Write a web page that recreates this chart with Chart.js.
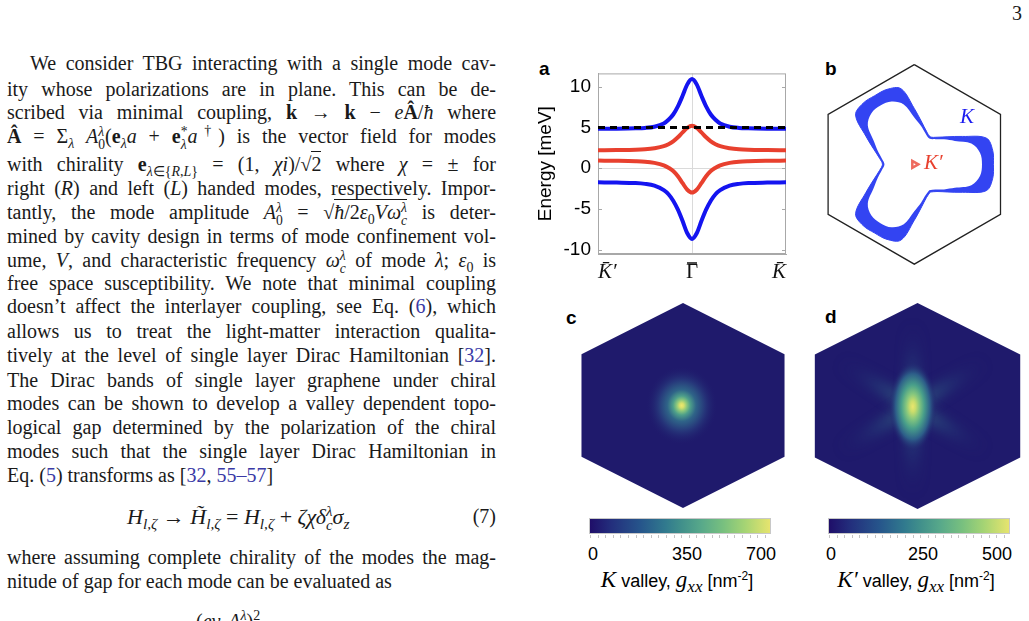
<!DOCTYPE html>
<html>
<head>
<meta charset="utf-8">
<title>TBG in a chiral cavity</title>
<script src="https://cdn.jsdelivr.net/npm/chart.js@4.4.1/dist/chart.umd.min.js"></script>
<style>
  body { margin: 0; width: 1029px; height: 621px; position: relative; overflow: hidden; background: #fff; }
  .ln { position: absolute; left: 7px; width: 489px; font: 20px/24px "Liberation Serif", serif; color: #1a1a1a;
        text-align: justify; text-align-last: justify; }
  .ln.l { text-align-last: left; }
  .ln sub, .ln sup { font-size: 0.7em; line-height: 0; }
  .st { display: inline-block; vertical-align: -0.42em; font-size: 0.68em; line-height: 0.95em; text-align: left; }
  .ov { border-top: 1px solid #1a1a1a; padding-top: 1px; }
  .ref { color: #3a3aa6; }
  .page { position: absolute; left: 1012px; top: 2px; font: 20px "Liberation Serif", serif; color: #1a1a1a; }
  .tag { position: absolute; font: bold 19px "Liberation Sans", sans-serif; color: #000; }
  canvas { position: absolute; }
  .cbar { position: absolute; top: 518px; height: 16px; border: 1px solid #c8c8c8; box-sizing: border-box;
          background: linear-gradient(to right, #1f0e69 0%, #232f7d 12%, #26558b 28%, #317a8e 42%, #3f8e8b 50%,
                      #58a98a 62%, #78c07f 74%, #a5d474 86%, #e6e46e 100%); }
  .cticks { position: absolute; top: 535px; height: 3px;
            background: repeating-linear-gradient(to right, #c4c4c4 0 1px, transparent 1px 7.6px); }
  .cl { position: absolute; top: 544px; font: 18px "Liberation Sans", sans-serif; color: #000; transform: translateX(-50%); }
  .cap { position: absolute; top: 567px; font: 18px "Liberation Sans", sans-serif; color: #000; transform: translateX(-50%); white-space: nowrap; }
  .cap i { font: italic 23px "Liberation Serif", serif; }
  .cap sub { font: italic 17px "Liberation Serif", serif; }
  .cap sup { font-size: 12px; }
  .lbl { position: absolute; font: italic 21px "Liberation Serif", serif; }
</style>
</head>
<body>

<div class="page">3</div>

<div class="ln" style="top:51px;text-indent:23px">We consider TBG interacting with a single mode cav-</div>
<div class="ln" style="top:77px">ity whose polarizations are in plane. This can be de-</div>
<div class="ln" style="top:100px">scribed via minimal coupling, <b>k</b> → <b>k</b> − <i>e</i><b>Â</b>/<i>ħ</i> where</div>
<div class="ln" style="top:124px"><b>Â</b> = Σ<sub><i>λ</i></sub> <i>A</i><span class="st"><i>λ</i><br>0</span>(<b>e</b><sub><i>λ</i></sub><i>a</i> + <b>e</b><span class="st">*<br><i>λ</i></span><i>a</i><sup>†</sup>) is the vector field for modes</div>
<div class="ln" style="top:152px">with chirality <b>e</b><sub><i>λ</i>∈{<i>R</i>,<i>L</i>}</sub> = (1, <i>χi</i>)/√<span class="ov">2</span> where <i>χ</i> = ± for</div>
<div class="ln" style="top:176px">right (<i>R</i>) and left (<i>L</i>) handed modes, respectively. Impor-</div>
<div class="ln" style="top:200px">tantly, the mode amplitude <i>A</i><span class="st"><i>λ</i><br>0</span> = √<span class="ov"><i>ħ</i>/2<i>ε</i><sub>0</sub><i>Vω</i><span class="st"><i>λ</i><br><i>c</i></span></span> is deter-</div>
<div class="ln" style="top:224px">mined by cavity design in terms of mode confinement vol-</div>
<div class="ln" style="top:248px">ume, <i>V</i>, and characteristic frequency <i>ω</i><span class="st"><i>λ</i><br><i>c</i></span> of mode <i>λ</i>; <i>ε</i><sub>0</sub> is</div>
<div class="ln" style="top:271px">free space susceptibility. We note that minimal coupling</div>
<div class="ln" style="top:294px">doesn’t affect the interlayer coupling, see Eq. (<span class="ref">6</span>), which</div>
<div class="ln" style="top:319px">allows us to treat the light-matter interaction qualita-</div>
<div class="ln" style="top:343px">tively at the level of single layer Dirac Hamiltonian [<span class="ref">32</span>].</div>
<div class="ln" style="top:368px">The Dirac bands of single layer graphene under chiral</div>
<div class="ln" style="top:391px">modes can be shown to develop a valley dependent topo-</div>
<div class="ln" style="top:415px">logical gap determined by the polarization of the chiral</div>
<div class="ln" style="top:439px">modes such that the single layer Dirac Hamiltonian in</div>
<div class="ln l" style="top:463px">Eq. (<span class="ref">5</span>) transforms as [<span class="ref">32</span>, <span class="ref">55–57</span>]</div>
<div class="ln l" style="top:504px;text-align:left;text-align-last:left">
  <span style="position:absolute;left:120px;white-space:nowrap;font-size:22px"><i>H</i><sub><i>l,ζ</i></sub> → <i>H̃</i><sub><i>l,ζ</i></sub> = <i>H</i><sub><i>l,ζ</i></sub> + <i>ζχδ</i><span class="st"><i>λ</i><br><i>c</i></span><i>σ</i><sub><i>z</i></sub></span>
  <span style="position:absolute;right:0">(7)</span>&nbsp;
</div>
<div class="ln" style="top:545px">where assuming complete chirality of the modes the mag-</div>
<div class="ln l" style="top:569px">nitude of gap for each mode can be evaluated as</div>
<div class="ln l" style="top:609px;left:196px;width:120px">(<i>ev</i><sub>F</sub><i>A</i><sup><i>λ</i></sup>)<sup>2</sup></div>

<div class="tag" style="left:539px;top:58px">a</div>
<div class="tag" style="left:825px;top:58px">b</div>
<div class="tag" style="left:566px;top:307px">c</div>
<div class="tag" style="left:825px;top:306px">d</div>

<canvas id="bands" width="262" height="240" style="left:530px;top:55px"></canvas>
<canvas id="fermi" width="229" height="240" style="left:800px;top:55px"></canvas>
<canvas id="metricK" width="230" height="215" style="left:570px;top:300px"></canvas>
<canvas id="metricKp" width="229" height="215" style="left:800px;top:300px"></canvas>

<div class="lbl" style="left:960px;top:104px;color:#1c1cf0">K</div>
<div class="lbl" style="left:924px;top:150px;color:#e8402e">K′</div>

<div class="cbar" style="left:589px;width:182px"></div>
<div class="cticks" style="left:590px;width:180px"></div>
<div class="cl" style="left:593px">0</div>
<div class="cl" style="left:687px">350</div>
<div class="cl" style="left:761px">700</div>
<div class="cap" style="left:677px"><i>K</i> valley, <i>g</i><sub>xx</sub> [nm<sup>-2</sup>]</div>

<div class="cbar" style="left:828px;width:182px"></div>
<div class="cticks" style="left:829px;width:180px"></div>
<div class="cl" style="left:831px">0</div>
<div class="cl" style="left:923px">250</div>
<div class="cl" style="left:997px">500</div>
<div class="cap" style="left:916px"><i>K′</i> valley, <i>g</i><sub>xx</sub> [nm<sup>-2</sup>]</div>

<script>
// ---- panel a: bands along K' - Gamma - K (meV) ----
const kPath = [-1, -0.8, -0.6, -0.5, -0.4, -0.3, -0.25, -0.2, -0.15, -0.1, -0.05, 0,
               0.05, 0.1, 0.15, 0.2, 0.25, 0.3, 0.4, 0.5, 0.6, 0.8, 1];
const blueUpper = [4.85, 4.86, 4.9, 4.95, 5.1, 5.5, 5.95, 6.6, 7.6, 8.9, 10.3, 10.95,
                   10.3, 8.9, 7.6, 6.6, 5.95, 5.5, 5.1, 4.95, 4.9, 4.86, 4.85];
const redUpper = [2.2, 2.22, 2.26, 2.32, 2.45, 2.7, 2.95, 3.3, 3.8, 4.4, 4.95, 5.2,
                  4.95, 4.4, 3.8, 3.3, 2.95, 2.7, 2.45, 2.32, 2.26, 2.22, 2.2];
const redLower = [0.93, 0.91, 0.86, 0.8, 0.65, 0.35, 0.05, -0.35, -1.0, -1.85, -2.65, -3.0,
                  -2.65, -1.85, -1.0, -0.35, 0.05, 0.35, 0.65, 0.8, 0.86, 0.91, 0.93];
const blueLower = [-1.74, -1.77, -1.83, -1.93, -2.15, -2.7, -3.2, -4.0, -5.1, -6.5, -8.0, -8.7,
                   -8.0, -6.5, -5.1, -4.0, -3.2, -2.7, -2.15, -1.93, -1.83, -1.77, -1.74];
const fermiK = [-1, 1];
const fermiE = [5.0, 5.0];
const kTicks = [-1, 0, 1];
const kLabels = ['K\u0304\u2032', '\u0393', 'K\u0304'];
const energyTicks = [-10, -5, 0, 5, 10];

// ---- panel b: Brillouin zone and Fermi contours (units of zone radius) ----
const hexX = [0, 0.866, 0.866, 0, -0.866, -0.866, 0];
const hexY = [1, 0.5, -0.5, -1, -0.5, 0.5, 1];
const lobeCenters = [0, 120, 240];
const lobeAngles = [-60, -50, -40, -30, -20, -10, 0, 10, 20, 30, 40, 50, 60];
const lobeOuter = [0.32, 0.355, 0.43, 0.56, 0.77, 0.80, 0.795, 0.80, 0.77, 0.56, 0.43, 0.355, 0.32];
const lobeInner = [0.30, 0.33, 0.39, 0.47, 0.61, 0.67, 0.68, 0.67, 0.61, 0.47, 0.39, 0.33, 0.30];
const pocketKp = [{x: 0, y: 0}];

// ---- panels c, d: quantum metric peaks ----
const peakK = [-0.011, 0];
const peakKp = [-0.04, -0.005];

const BLUE = '#1414f0';
const RED = '#e8402e';
Chart.defaults.font.family = '"Liberation Sans", sans-serif';
Chart.defaults.color = '#000';

function pts(xs, ys) {
  return xs.map((x, i) => ({x: x, y: ys[i]}));
}

function loop(radii) {
  let out = [];
  lobeCenters.forEach(c => {
    for (let i = 0; i < lobeAngles.length - 1; i++) {
      const a = (c + lobeAngles[i]) * Math.PI / 180;
      out.push({x: radii[i] * Math.cos(a), y: radii[i] * Math.sin(a)});
    }
  });
  out.push(out[0]);
  return out;
}

function band(ys, color) {
  return {data: pts(kPath, ys), showLine: true, borderColor: color, borderWidth: 4,
          pointRadius: 0, cubicInterpolationMode: 'monotone'};
}

const frame = {
  id: 'frame',
  beforeDatasetsDraw(chart) {
    const {ctx, chartArea: a, scales: {y}} = chart;
    ctx.save();
    ctx.strokeStyle = '#a8a8a8';
    ctx.lineWidth = 1;
    ctx.strokeRect(a.left + 0.5, a.top + 0.5, a.right - a.left - 1, a.bottom - a.top - 1);
    y.ticks.forEach(t => {
      const py = Math.round(y.getPixelForValue(t.value)) + 0.5;
      ctx.beginPath();
      ctx.moveTo(a.right, py); ctx.lineTo(a.right - 4, py);
      ctx.moveTo(a.left, py); ctx.lineTo(a.left + 4, py);
      ctx.stroke();
    });
    ctx.restore();
  },
  afterDraw(chart) {
    // bar over the Gamma label
    const {ctx, chartArea: a, scales: {x}} = chart;
    const gx = x.getPixelForValue(0);
    ctx.save();
    ctx.strokeStyle = '#111';
    ctx.lineWidth = 1.5;
    ctx.beginPath();
    ctx.moveTo(gx - 5, a.bottom + 9);
    ctx.lineTo(gx + 5, a.bottom + 9);
    ctx.stroke();
    ctx.restore();
  }
};

const gridOnZero = c => (c.tick && c.tick.value === 0) ? '#dadada' : 'rgba(0,0,0,0)';

new Chart(document.getElementById('bands'), {
  type: 'scatter',
  data: {
    datasets: [
      {data: pts(fermiK, fermiE), showLine: true, borderColor: '#000', borderWidth: 3,
       borderDash: [7, 5], pointRadius: 0},
      band(blueUpper, BLUE),
      band(redUpper, RED),
      band(redLower, RED),
      band(blueLower, BLUE)
    ]
  },
  options: {
    responsive: false,
    animation: false,
    layout: {padding: {top: 8, right: 5, left: 0, bottom: 0}},
    plugins: {legend: {display: false}, tooltip: {enabled: false}},
    scales: {
      x: {
        type: 'linear', min: -1, max: 1,
        afterBuildTicks: s => { s.ticks = kTicks.map(v => ({value: v})); },
        afterFit: s => { s.height = 41; },
        ticks: {
          align: 'inner', padding: 6, maxRotation: 0, autoSkip: false, color: '#111',
          callback: (v, i) => kLabels[i],
          font: c => ({family: '"Liberation Serif", serif', size: 21,
                       style: (c.tick && c.tick.value === 0) ? 'normal' : 'italic'})
        },
        grid: {color: gridOnZero, drawTicks: false},
        border: {color: '#a8a8a8'}
      },
      y: {
        min: -10.55, max: 11.65,
        afterBuildTicks: s => { s.ticks = energyTicks.map(v => ({value: v})); },
        afterFit: s => { s.width = 68; },
        ticks: {padding: 7, font: {size: 19}},
        grid: {color: gridOnZero, drawTicks: false},
        border: {color: '#a8a8a8'},
        title: {display: true, text: 'Energy [meV]', font: {size: 19}, padding: {top: 4, bottom: 0}}
      }
    }
  },
  plugins: [frame]
});

function hiddenScales(x0, x1, y0, y1) {
  return {
    x: {type: 'linear', display: false, min: x0, max: x1},
    y: {type: 'linear', display: false, min: y0, max: y1}
  };
}

const hexDataset = (fill) => ({
  data: pts(hexX, hexY), showLine: true, pointRadius: 0, tension: 0,
  borderColor: fill ? fill : '#222', borderWidth: fill ? 0 : 1.3,
  backgroundColor: fill ? fill : 'rgba(0,0,0,0)', fill: fill ? 'shape' : false
});

new Chart(document.getElementById('fermi'), {
  type: 'scatter',
  data: {
    datasets: [
      {data: pocketKp, pointStyle: 'triangle', rotation: 90, pointRadius: 4,
       borderColor: '#ee6a5e', borderWidth: 2.5, backgroundColor: 'rgba(0,0,0,0)'},
      {data: loop(lobeInner), showLine: true, pointRadius: 0, tension: 0.35,
       borderWidth: 0, borderColor: '#fff', backgroundColor: '#fff', fill: 'shape'},
      {data: loop(lobeOuter), showLine: true, pointRadius: 0, tension: 0.35,
       borderWidth: 1, borderColor: '#3344f2', backgroundColor: '#3344f2', fill: 'shape'},
      hexDataset(null)
    ]
  },
  options: {
    responsive: false, animation: false,
    layout: {padding: 0},
    plugins: {legend: {display: false}, tooltip: {enabled: false}},
    scales: hiddenScales(-1.083, 1.087, -1.244, 1.031)
  }
});

const glow = {
  id: 'glow',
  afterDatasetsDraw(chart, args, o) {
    const {ctx, scales: {x, y}} = chart;
    ctx.save();
    ctx.beginPath();
    hexX.forEach((hx, i) => {
      const px = x.getPixelForValue(hx), py = y.getPixelForValue(hexY[i]);
      if (i) ctx.lineTo(px, py); else ctx.moveTo(px, py);
    });
    ctx.closePath();
    ctx.clip();
    const cx = x.getPixelForValue(o.center[0]), cy = y.getPixelForValue(o.center[1]);
    if (o.arms) {
      ctx.filter = 'blur(6px)';
      o.arms.forEach(([ang, len]) => {
        const a = ang * Math.PI / 180;
        const ex = x.getPixelForValue(o.center[0] + len * Math.cos(a));
        const ey = y.getPixelForValue(o.center[1] + len * Math.sin(a));
        const g = ctx.createLinearGradient(cx, cy, ex, ey);
        g.addColorStop(0, 'rgba(70,150,140,0.6)');
        g.addColorStop(0.45, 'rgba(45,100,135,0.35)');
        g.addColorStop(1, 'rgba(31,26,108,0)');
        ctx.strokeStyle = g;
        ctx.lineWidth = o.armWidth;
        ctx.beginPath(); ctx.moveTo(cx, cy); ctx.lineTo(ex, ey); ctx.stroke();
      });
      ctx.filter = 'none';
    }
    ctx.translate(cx, cy);
    ctx.scale(1, o.stretch);
    const g = ctx.createRadialGradient(0, 0, 0, 0, 0, o.radius);
    o.stops.forEach(s => g.addColorStop(s[0], s[1]));
    ctx.fillStyle = g;
    ctx.beginPath(); ctx.arc(0, 0, o.radius, 0, Math.PI * 2); ctx.fill();
    ctx.restore();
  }
};

new Chart(document.getElementById('metricK'), {
  type: 'scatter',
  data: {datasets: [hexDataset('#1f1a6c')]},
  options: {
    responsive: false, animation: false, layout: {padding: 0},
    plugins: {
      legend: {display: false}, tooltip: {enabled: false},
      glow: {center: peakK, radius: 36, stretch: 1.1, stops: [
        [0, '#eee86e'], [0.06, '#d6e06c'], [0.14, '#8cc87c'], [0.24, '#4e9f8a'],
        [0.4, '#2f6488'], [0.65, '#26367a'], [1, 'rgba(31,26,108,0)']]}
    },
    scales: hiddenScales(-0.964, 0.998, -1.068, 1.029)
  },
  plugins: [glow]
});

new Chart(document.getElementById('metricKp'), {
  type: 'scatter',
  data: {datasets: [hexDataset('#1f1a6c')]},
  options: {
    responsive: false, animation: false, layout: {padding: 0},
    plugins: {
      legend: {display: false}, tooltip: {enabled: false},
      glow: {center: peakKp, radius: 24, stretch: 1.9, armWidth: 13,
        arms: [[90, 0.8], [270, 0.85], [35, 0.75], [145, 0.75], [215, 0.75], [325, 0.75]],
        stops: [[0, '#eae66e'], [0.12, '#cadd6c'], [0.28, '#84c67e'], [0.48, '#489e8a'],
                [0.72, '#2d5e89'], [1, 'rgba(31,26,108,0)']]}
    },
    scales: hiddenScales(-0.991, 0.940, -1.058, 1.029)
  },
  plugins: [glow]
});

// squeeze any text line that is wider than the column so justification never wraps
document.querySelectorAll('.ln').forEach(el => {
  if (el.style.width) return;
  el.style.whiteSpace = 'nowrap';
  el.style.width = 'auto';
  const w = el.offsetWidth;
  const n = el.textContent.length;
  el.style.width = '';
  el.style.whiteSpace = '';
  if (w > 489) el.style.letterSpacing = ((489 - w - 2) / n) + 'px';
});
</script>
</body>
</html>
